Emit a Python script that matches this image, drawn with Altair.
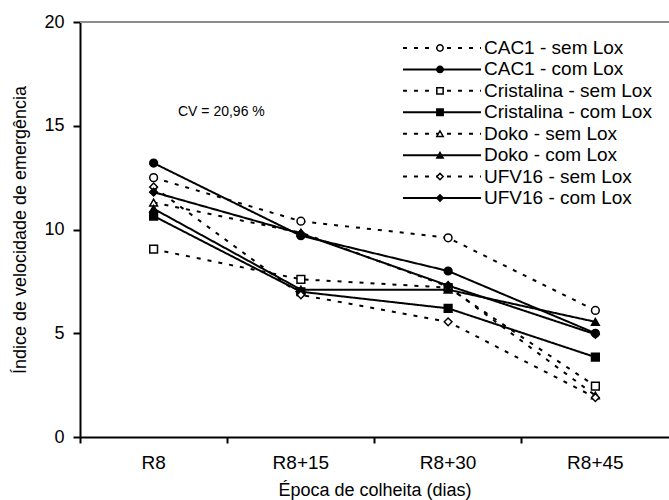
import altair as alt
import pandas as pd

epocas = ["R8", "R8+15", "R8+30", "R8+45"]
series = ["CAC1 - sem Lox", "CAC1 - com Lox", "Cristalina - sem Lox", "Cristalina - com Lox",
          "Doko - sem Lox", "Doko - com Lox", "UFV16 - sem Lox", "UFV16 - com Lox"]
tipos = ["sem", "com", "sem", "com", "sem", "com", "sem", "com"]
formas = ["circle", "circle", "square", "square", "triangle-up", "triangle-up", "diamond", "diamond"]

cac1_sem = [12.5, 10.4, 9.6, 6.1]
cac1_com = [13.2, 9.7, 8.0, 5.0]
crist_sem = [9.05, 7.6, 7.2, 2.45]
crist_com = [10.65, 7.0, 6.2, 3.85]
doko_sem = [11.3, 9.85, 7.25, 2.0]
doko_com = [11.0, 7.1, 7.1, 5.55]
ufv_sem = [12.05, 6.85, 5.55, 1.9]
ufv_com = [11.8, 9.8, 7.3, 4.95]
valores = [cac1_sem, cac1_com, crist_sem, crist_com, doko_sem, doko_com, ufv_sem, ufv_com]

rows = []
for s, t, f, vals in zip(series, tipos, formas, valores):
    for e, v in zip(epocas, vals):
        rows.append({"epoca": e, "serie": s, "tipo": t, "forma": f, "valor": v})
df = pd.DataFrame(rows)
leg = pd.DataFrame({"serie": series, "tipo": tipos, "forma": formas})

FONT = "Liberation Sans"
dash_scale = alt.Scale(domain=["sem", "com"], range=[[4, 7], [1, 0]])
fill_scale = alt.Scale(domain=["sem", "com"], range=["white", "black"])
shape_scale = alt.Scale(domain=["circle", "square", "triangle-up", "diamond"],
                        range=["circle", "square", "triangle-up", "diamond"])

x_enc = alt.X("epoca:N", sort=epocas,
              scale=alt.Scale(type="band", paddingInner=0, paddingOuter=0),
              axis=alt.Axis(title="Época de colheita (dias)", labelAngle=0, bandPosition=0,
                            tickSize=6, tickWidth=2, tickColor="black",
                            domainColor="black", domainWidth=2,
                            labelFont=FONT, labelFontSize=19, labelColor="black", labelPadding=10,
                            titleFont=FONT, titleFontSize=18, titleFontWeight="normal",
                            titleColor="black", titlePadding=9, grid=False))
y_enc = alt.Y("valor:Q", scale=alt.Scale(domain=[0, 20], nice=False),
              axis=alt.Axis(title="Índice de velocidade de emergência", values=[0, 5, 10, 15, 20],
                            tickSize=7, tickWidth=2, tickColor="black",
                            domainColor="black", domainWidth=2,
                            labelFont=FONT, labelFontSize=18, labelColor="black", labelPadding=9,
                            titleFont=FONT, titleFontSize=18, titleFontWeight="normal",
                            titleColor="black", titlePadding=14, grid=False))

base = alt.Chart(df)
lines = base.mark_line(color="black", strokeWidth=2).encode(
    x=x_enc, y=y_enc, detail="serie:N",
    strokeDash=alt.StrokeDash("tipo:N", scale=dash_scale, legend=None))
points = base.mark_point(filled=True, stroke="black", strokeWidth=1.5, size=60, opacity=1).encode(
    x=x_enc, y=y_enc,
    shape=alt.Shape("forma:N", scale=shape_scale, legend=None),
    fill=alt.Fill("tipo:N", scale=fill_scale, legend=None))
top = alt.Chart(pd.DataFrame({"v": [20]})).mark_rule(color="#8c8c8c", strokeWidth=2).encode(
    y=alt.datum(20))
cv = alt.Chart(pd.DataFrame({"t": ["CV = 20,96 %"]})).mark_text(
    font=FONT, fontSize=14, align="left", baseline="middle", color="black").encode(
    text="t:N", x=alt.value(98), y=alt.value(90))

main = alt.layer(lines, points, top, cv)

ly = alt.Y("serie:N", sort=series, scale=alt.Scale(type="point", domain=series, range=[26, 176], padding=0),
           axis=None)
lbase = alt.Chart(leg)
lrule = lbase.mark_rule(color="black", strokeWidth=2).encode(
    x=alt.value(323), x2=alt.value(401), y=ly,
    strokeDash=alt.StrokeDash("tipo:N", scale=dash_scale, legend=None))
lpt = lbase.mark_point(filled=True, stroke="black", strokeWidth=1.5, size=40, opacity=1).encode(
    x=alt.value(360), y=ly,
    shape=alt.Shape("forma:N", scale=shape_scale, legend=None),
    fill=alt.Fill("tipo:N", scale=fill_scale, legend=None))
ltext = lbase.mark_text(font=FONT, fontSize=19, align="left", baseline="middle", color="black").encode(
    x=alt.value(404), y=ly, text="serie:N")
legend = alt.layer(lrule, lpt, ltext)

chart = alt.layer(main, legend).resolve_scale(y="independent").properties(
    width=589, height=415,
    padding={"left": 80, "top": 22, "right": 0, "bottom": 63},
    autosize=alt.AutoSizeParams(type="none"),
    background="white",
).configure_view(stroke=None)

chart.save("out.html", embed_options={"renderer": "svg", "actions": False})
